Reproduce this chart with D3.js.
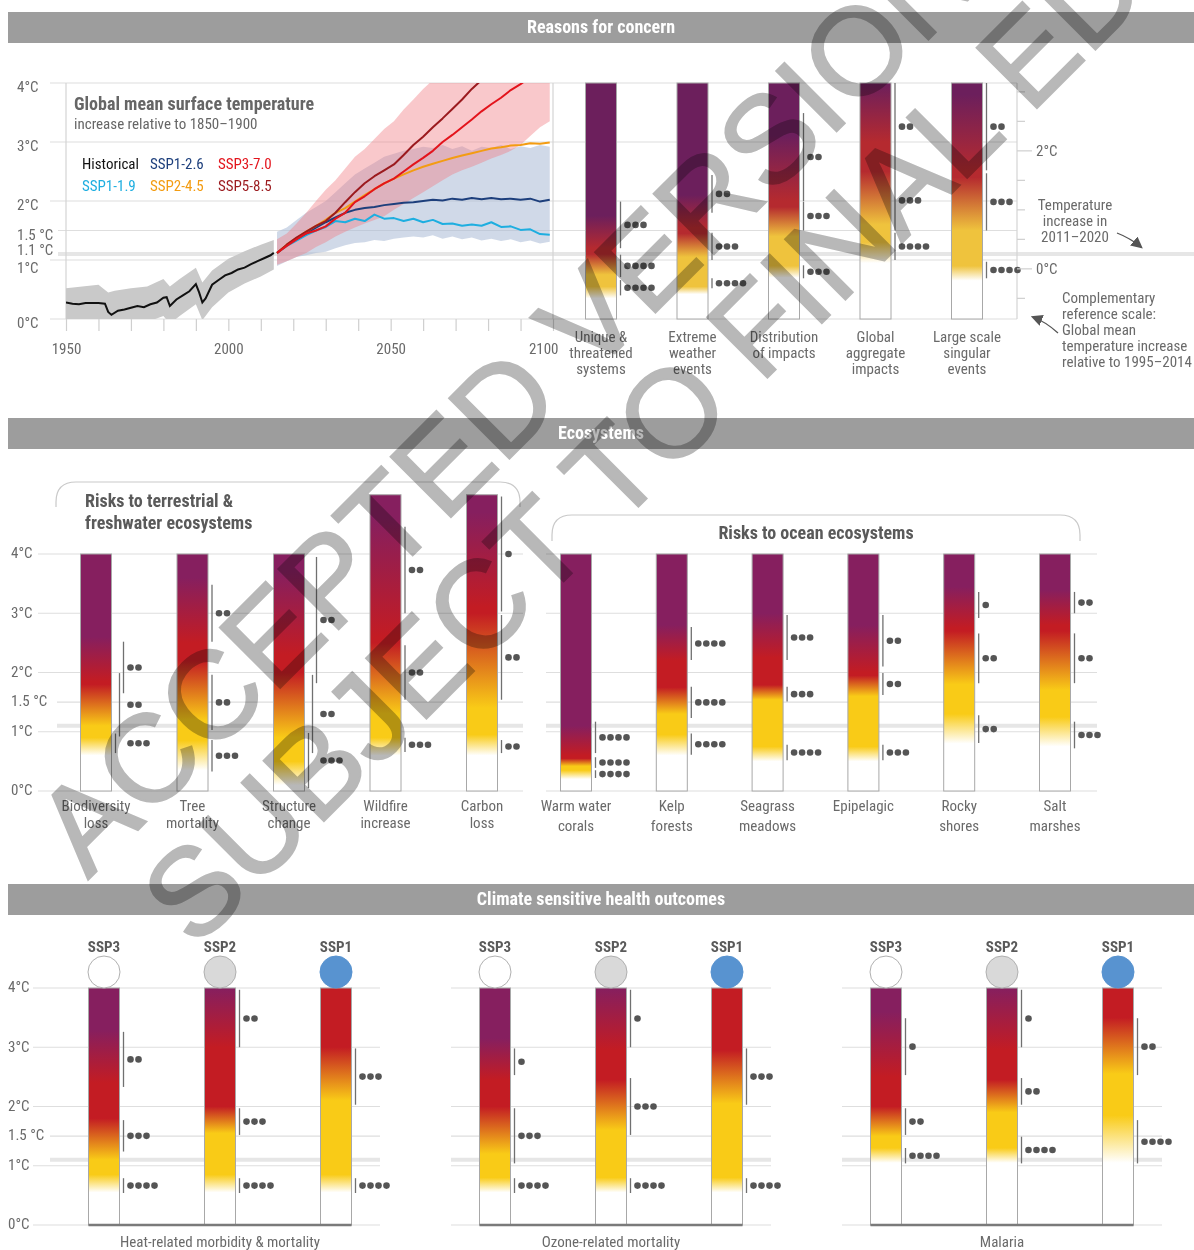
<!DOCTYPE html>
<html>
<head>
<meta charset="utf-8">
<title>Burning embers</title>
<script src="https://d3js.org/d3.v7.min.js"></script>
<style>
  body { margin: 0; background: #fff; }
  svg text { font-family: "Liberation Sans Narrow", "Arial Narrow", "Roboto Condensed", sans-serif; }
</style>
</head>
<body>
<div id="chart"></div>
<script>
// ---------- data ----------
const headerTitles = ["Reasons for concern", "Ecosystems", "Climate sensitive health outcomes"];

const topTicks = [0, 1, 1.1, 1.5, 2, 3, 4];
const topTickLabels = ["0°C", "1°C", "1.1 °C", "1.5 °C", "2°C", "3°C", "4°C"];
const tempTicks = [0, 1, 1.5, 2, 3, 4];
const tempTickLabels = ["0°C", "1°C", "1.5 °C", "2°C", "3°C", "4°C"];
const recentWarming = 1.1;

const yearLabels = [1950, 2000, 2050, 2100];

const histYears = [1950, 1952, 1954, 1956, 1958, 1960, 1962, 1963, 1964, 1966, 1968, 1970, 1972, 1974, 1976, 1978, 1980, 1981, 1982, 1984, 1986, 1988, 1990, 1991, 1992, 1993, 1995, 1997, 1999, 2001, 2003, 2005, 2007, 2009, 2011, 2013, 2014];
const histValues = [0.28, 0.26, 0.25, 0.27, 0.27, 0.27, 0.26, 0.12, 0.07, 0.14, 0.16, 0.19, 0.22, 0.20, 0.25, 0.28, 0.36, 0.37, 0.22, 0.33, 0.40, 0.47, 0.59, 0.45, 0.28, 0.35, 0.58, 0.66, 0.74, 0.78, 0.84, 0.87, 0.93, 0.98, 1.03, 1.08, 1.12];
const histBandYears = [1950, 1955, 1960, 1963, 1965, 1970, 1975, 1980, 1982, 1985, 1990, 1992, 1995, 2000, 2005, 2010, 2014];
const histBandLow = [-0.05, -0.05, -0.05, -0.2, -0.15, -0.1, -0.05, 0.05, -0.08, 0.05, 0.25, -0.02, 0.2, 0.45, 0.6, 0.72, 0.84];
const histBandHigh = [0.52, 0.55, 0.58, 0.45, 0.48, 0.52, 0.55, 0.68, 0.55, 0.68, 0.87, 0.62, 0.82, 1.02, 1.15, 1.26, 1.34];

const projYears = [2015, 2018, 2021, 2024, 2027, 2030, 2033, 2036, 2039, 2042, 2045, 2048, 2051, 2054, 2057, 2060, 2063, 2066, 2069, 2072, 2075, 2078, 2081, 2084, 2087, 2090, 2093, 2096, 2099];
const ssp119 = [1.12, 1.24, 1.33, 1.42, 1.50, 1.56, 1.66, 1.64, 1.70, 1.66, 1.77, 1.70, 1.71, 1.66, 1.70, 1.64, 1.68, 1.61, 1.62, 1.58, 1.60, 1.58, 1.64, 1.56, 1.57, 1.51, 1.52, 1.44, 1.43];
const ssp126 = [1.12, 1.25, 1.36, 1.45, 1.55, 1.64, 1.72, 1.80, 1.85, 1.88, 1.90, 1.93, 1.95, 1.97, 1.98, 2.00, 2.02, 2.01, 2.04, 2.02, 2.05, 2.03, 2.05, 2.03, 2.04, 2.02, 2.04, 1.99, 2.02];
const ssp245 = [1.12, 1.26, 1.37, 1.48, 1.58, 1.68, 1.80, 1.88, 1.99, 2.10, 2.20, 2.30, 2.38, 2.45, 2.52, 2.58, 2.63, 2.68, 2.73, 2.77, 2.81, 2.85, 2.89, 2.91, 2.94, 2.95, 2.98, 2.97, 2.99];
const ssp370 = [1.12, 1.24, 1.35, 1.45, 1.50, 1.57, 1.70, 1.80, 1.98, 2.08, 2.20, 2.30, 2.38, 2.50, 2.62, 2.73, 2.85, 3.00, 3.12, 3.25, 3.38, 3.52, 3.64, 3.75, 3.88, 3.98, 4.10, 4.20, 4.30];
const ssp585 = [1.12, 1.26, 1.38, 1.48, 1.58, 1.66, 1.80, 1.98, 2.15, 2.30, 2.42, 2.52, 2.62, 2.78, 2.95, 3.09, 3.25, 3.40, 3.56, 3.72, 3.90, 4.05, 4.20, 4.35, 4.50, 4.60, 4.70, 4.80, 4.90];
const lowBandLow = [0.90, 0.98, 1.05, 1.08, 1.12, 1.14, 1.20, 1.25, 1.29, 1.30, 1.34, 1.32, 1.36, 1.38, 1.40, 1.38, 1.42, 1.36, 1.40, 1.35, 1.38, 1.33, 1.36, 1.32, 1.35, 1.30, 1.33, 1.28, 1.31];
const lowBandHigh = [1.48, 1.55, 1.68, 1.80, 1.90, 2.00, 2.15, 2.30, 2.45, 2.55, 2.65, 2.75, 2.80, 2.85, 2.88, 2.92, 2.90, 2.95, 2.88, 2.93, 2.85, 2.92, 2.90, 2.95, 2.88, 2.93, 2.90, 2.95, 2.92];
const highBandLow = [0.92, 0.98, 1.05, 1.12, 1.22, 1.30, 1.40, 1.48, 1.55, 1.62, 1.68, 1.74, 1.85, 1.95, 2.05, 2.15, 2.25, 2.35, 2.45, 2.52, 2.58, 2.65, 2.72, 2.78, 2.85, 2.95, 3.10, 3.25, 3.35];
const highBandHigh = [1.35, 1.45, 1.62, 1.80, 2.00, 2.19, 2.35, 2.55, 2.75, 2.88, 3.05, 3.22, 3.35, 3.55, 3.72, 3.90, 4.05, 4.20, 4.35, 4.50, 4.60, 4.70, 4.80, 4.90, 5.00, 5.00, 5.00, 5.00, 5.00];

const legendNames = ["Historical", "SSP1-2.6", "SSP3-7.0", "SSP1-1.9", "SSP2-4.5", "SSP5-8.5"];

// complementary scale (relative to 1995-2014)
const compTicks = [-0.5, 0, 0.5, 1, 1.5, 2, 2.5, 3];
const compLabelTicks = [0, 2];
const compLabels = ["0°C", "2°C"];
const compBaseline = 0.85;

// ember transitions: [white->yellow from, to, yellow->red from, to, red->purple from, to]
// confidence: [low, high, number of dots]
const rfcNames = [["Unique &", "threatened", "systems"], ["Extreme", "weather", "events"], ["Distribution", "of impacts"], ["Global", "aggregate", "impacts"], ["Large scale", "singular", "events"]];
const rfcTop = [4, 4, 4, 4, 4];
const rfcTransitions = [
  [0.35, 0.55, 0.75, 1.1, 1.2, 1.75],
  [0.42, 0.55, 1.05, 1.45, 1.55, 2.1],
  [0.7, 0.9, 1.4, 1.9, 2.0, 3.1],
  [0.95, 1.3, 1.6, 2.5, 3.0, 5.2],
  [0.65, 0.9, 1.5, 2.4, 2.5, 3.8]
];
const rfcConfidence = [
  [[1.2, 1.99, 3], [0.71, 1.09, 4], [0.4, 0.66, 4]],
  [[1.8, 2.44, 2], [1.0, 1.46, 3], [0.52, 0.69, 4]],
  [[2.0, 3.49, 2], [1.5, 1.99, 3], [0.69, 0.91, 3]],
  [[2.52, 4.0, 2], [1.5, 2.52, 3], [1.0, 1.46, 4]],
  [[2.52, 4.0, 2], [1.5, 2.47, 3], [0.69, 0.97, 4]]
];

const terrNames = [["Biodiversity", "loss"], ["Tree", "mortality"], ["Structure", "change"], ["Wildfire", "increase"], ["Carbon", "loss"]];
const terrTop = [4, 4, 4, 5, 5];
const terrTransitions = [
  [0.6, 0.9, 1.1, 1.8, 1.85, 2.6],
  [0.35, 0.85, 1.2, 2.2, 2.5, 3.6],
  [0.1, 0.5, 0.9, 2.0, 2.3, 3.7],
  [0.6, 0.9, 1.3, 2.5, 2.6, 4.6],
  [0.6, 0.95, 1.4, 3.0, 3.1, 4.7]
];
const terrConfidence = [
  [[1.65, 2.52, 2], [0.92, 1.99, 2], [0.64, 0.97, 3]],
  [[2.52, 3.48, 2], [1.03, 1.96, 2], [0.33, 0.86, 3]],
  [[1.82, 3.95, 2], [0.64, 1.96, 2], [0.05, 0.98, 3]],
  [[3.0, 4.46, 2], [1.54, 2.46, 2], [0.66, 0.9, 3]],
  [[3.03, 4.97, 1], [1.54, 2.97, 2], [0.64, 0.86, 2]]
];

const oceanNames = [["Warm water", "corals"], ["Kelp", "forests"], ["Seagrass", "meadows"], ["Epipelagic"], ["Rocky", "shores"], ["Salt", "marshes"]];
const oceanTop = [4, 4, 4, 4, 4, 4];
const oceanTransitions = [
  [0.2, 0.35, 0.42, 0.55, 0.6, 1.1],
  [0.6, 0.95, 1.3, 1.75, 2.2, 2.8],
  [0.5, 0.75, 1.54, 1.79, 2.25, 3.0],
  [0.5, 0.75, 1.6, 1.95, 2.0, 2.8],
  [0.8, 1.3, 1.8, 2.7, 2.75, 3.45],
  [0.75, 1.25, 1.7, 2.7, 2.8, 3.4]
];
const oceanConfidence = [
  [[0.64, 1.17, 4], [0.39, 0.57, 4], [0.22, 0.35, 4]],
  [[2.21, 2.77, 4], [1.23, 1.76, 4], [0.61, 0.97, 4]],
  [[2.21, 2.97, 3], [1.51, 1.76, 3], [0.52, 0.78, 4]],
  [[2.1, 2.97, 2], [1.62, 1.99, 2], [0.52, 0.78, 3]],
  [[2.92, 3.36, 1], [1.82, 2.66, 2], [0.81, 1.28, 2]],
  [[3.0, 3.36, 2], [1.82, 2.66, 2], [0.72, 1.17, 3]]
];

const healthOutcomes = ["Heat-related morbidity & mortality", "Ozone-related mortality", "Malaria"];
const sspNames = ["SSP3", "SSP2", "SSP1"];
const healthTransitions = [
  [[0.55, 0.85, 1.1, 1.8, 2.4, 3.3], [0.55, 0.85, 1.55, 2.0, 3.0, 4.0], [0.55, 0.85, 2.1, 3.0, null, null]],
  [[0.55, 0.8, 1.2, 2.0, 2.45, 3.15], [0.55, 0.8, 1.6, 2.45, 2.95, 4.0], [0.55, 0.8, 2.05, 2.95, null, null]],
  [[1.05, 1.3, 1.5, 2.0, 2.5, 3.6], [1.05, 1.3, 1.9, 2.45, 2.95, 4.0], [1.05, 1.85, 2.55, 3.5, null, null]]
];
const healthConfidence = [
  [[[2.33, 3.26, 2], [1.24, 1.77, 3], [0.54, 0.79, 4]], [[3.0, 3.97, 2], [1.52, 1.97, 3], [0.54, 0.79, 4]], [[2.03, 2.98, 3], [0.54, 0.79, 4]]],
  [[[2.53, 2.98, 1], [1.04, 1.97, 3], [0.54, 0.79, 4]], [[3.0, 3.97, 1], [1.52, 2.48, 3], [0.54, 0.79, 4]], [[2.03, 2.98, 3], [0.54, 0.79, 4]]],
  [[[2.53, 3.49, 1], [1.52, 1.97, 2], [1.04, 1.3, 4]], [[3.0, 3.97, 1], [2.03, 2.48, 2], [1.04, 1.49, 4]], [[2.53, 3.49, 2], [1.04, 1.77, 4]]]
];

// ---------- setup ----------
const W = 1194, H = 1250;
const barW = 31;
const gridColor = "#dedede", labelColor = "#6a6a6a";
const palTop = {yellow: "#efc33d", red: "#b52a2f", purple: "#6c1f5c"};
const palEco = {yellow: "#f9cb17", red: "#c31c23", purple: "#861f5f"};
const scenColor = {"Historical": "#111", "SSP1-1.9": "#1eaee0", "SSP1-2.6": "#1d3f7c", "SSP2-4.5": "#f39c12", "SSP3-7.0": "#e3141c", "SSP5-8.5": "#9b1a1e"};
const sspFill = {"SSP3": "#ffffff", "SSP2": "#d9d9d9", "SSP1": "#5893d0"};

const svg = d3.select("#chart").append("svg").attr("width", W).attr("height", H);
const defs = svg.append("defs");
defs.append("marker").attr("id", "arrow").attr("viewBox", "0 0 10 10")
  .attr("refX", 8).attr("refY", 5).attr("markerWidth", 9).attr("markerHeight", 9).attr("orient", "auto")
  .append("path").attr("d", "M0,0 L10,5 L0,10 z").attr("fill", "#555");

// header bands
const bandY = [12, 418, 884];
headerTitles.forEach((t, i) => {
  svg.append("rect").attr("x", 8).attr("y", bandY[i]).attr("width", W - 8).attr("height", 31).attr("fill", "#9d9d9d");
  svg.append("text").attr("x", 601).attr("y", bandY[i] + 21).attr("text-anchor", "middle")
    .attr("fill", "#fff").attr("font-size", 18).attr("font-weight", "bold").text(t);
});

function gridLines(g, y, ticks, x0, x1, x15) {
  ticks.forEach(v => {
    g.append("line").attr("x1", v === 1.5 && x15 ? x15 : x0).attr("x2", x1)
      .attr("y1", y(v)).attr("y2", y(v)).attr("stroke", gridColor).attr("stroke-width", 1.2);
  });
  g.append("line").attr("x1", x15 || x0).attr("x2", x1).attr("y1", y(recentWarming)).attr("y2", y(recentWarming))
    .attr("stroke", "#e6e6e6").attr("stroke-width", 4);
}

function yLabels(g, y, ticks, labels, x, shift) {
  g.selectAll(null).data(ticks).join("text")
    .attr("x", x).attr("y", (d) => y(d) + (shift[d] !== undefined ? shift[d] : shift.base))
    .attr("dy", "0.35em").attr("font-size", 15).attr("fill", labelColor)
    .text((d, i) => labels[i]);
}

let gradId = 0;
function drawEmber(g, cx, y, topT, tr, pal) {
  const id = "ember" + (gradId++);
  const grad = defs.append("linearGradient").attr("id", id).attr("gradientUnits", "userSpaceOnUse")
    .attr("x1", 0).attr("x2", 0).attr("y1", y(0)).attr("y2", y(topT));
  const stops = [[0, "#ffffff"], [tr[0], "#ffffff"], [tr[1], pal.yellow], [tr[2], pal.yellow], [tr[3], pal.red]];
  if (tr[4] != null) stops.push([tr[4], pal.red], [tr[5], pal.purple]);
  grad.selectAll("stop").data(stops).join("stop")
    .attr("offset", d => Math.min(1, d[0] / topT)).attr("stop-color", d => d[1]);
  g.append("rect").attr("x", cx - barW / 2).attr("y", y(topT)).attr("width", barW).attr("height", y(0) - y(topT))
    .attr("fill", `url(#${id})`).attr("stroke", "#a8a8a8").attr("stroke-width", 1);
}

function drawConfidence(g, cx, y, conf) {
  const right = cx + barW / 2;
  const n = conf.length;
  const overlap = conf.some((c, i) => i > 0 && c[1] > conf[i - 1][0]);
  const xs = conf.map((c, i) => right + (overlap ? 4 + 4 * (n - 1 - i) : 4));
  const dotX0 = d3.max(xs) + 7;
  conf.forEach((c, i) => {
    g.append("line").attr("x1", xs[i]).attr("x2", xs[i]).attr("y1", y(c[1])).attr("y2", y(c[0]))
      .attr("stroke", "#707070").attr("stroke-width", 1.3);
    const cy = y((c[0] + c[1]) / 2);
    g.selectAll(null).data(d3.range(c[2])).join("circle")
      .attr("cx", k => dotX0 + k * 8).attr("cy", cy).attr("r", 3.3).attr("fill", "#555");
  });
}

function nameLabel(g, cx, y0, lines, step) {
  g.append("text").attr("text-anchor", "middle").attr("font-size", 15).attr("fill", labelColor)
    .selectAll("tspan").data(lines).join("tspan")
    .attr("x", cx).attr("y", (d, i) => y0 + i * step).text(d => d);
}

// ---------- reasons for concern ----------
const rfc = svg.append("g");
const yTop = d3.scaleLinear().domain([0, 4]).range([319, 83]);
const xYear = d3.scaleLinear().domain([1950, 2100]).range([66, 553]);

gridLines(rfc, yTop, tempTicks, 50, 1017, 58);
yLabels(rfc, yTop, topTicks, topTickLabels, 17, {base: 4, 1: 8, 1.1: -4});
rfc.append("line").attr("x1", 58).attr("x2", W).attr("y1", yTop(recentWarming)).attr("y2", yTop(recentWarming))
  .attr("stroke", "#e6e6e6").attr("stroke-width", 4);

[66, 553, 1017].forEach(x => rfc.append("line").attr("x1", x).attr("x2", x).attr("y1", yTop(4)).attr("y2", yTop(0))
  .attr("stroke", "#d4d4d4").attr("stroke-width", 1.2));

const xAxis = d3.axisBottom(xYear).tickValues(d3.range(1950, 2101, 10))
  .tickFormat(d => yearLabels.includes(d) ? d : "").tickSize(12).tickPadding(12);
const xAxisG = rfc.append("g").attr("transform", `translate(0,${yTop(0)})`).call(xAxis);
xAxisG.attr("font-family", null).attr("font-size", null);
xAxisG.select(".domain").remove();
xAxisG.selectAll(".tick line").attr("stroke", "#cfcfcf").attr("stroke-width", 1.2);
xAxisG.selectAll(".tick text").attr("font-size", 15).attr("fill", labelColor);
xAxisG.selectAll(".tick text").filter(d => d === 2100).attr("text-anchor", "end").attr("x", 5);

defs.append("clipPath").attr("id", "plotClip").append("rect")
  .attr("x", 66).attr("y", yTop(4)).attr("width", 487).attr("height", yTop(0) - yTop(4));
const plot = rfc.append("g").attr("clip-path", "url(#plotClip)");
const area = d3.area().x(d => xYear(d[0])).y0(d => yTop(d[1])).y1(d => yTop(d[2]));
const line = d3.line().x(d => xYear(d[0])).y(d => yTop(d[1]));

plot.append("path").datum(d3.zip(histBandYears, histBandLow, histBandHigh)).attr("d", area).attr("fill", "#c9c9c9");
plot.append("path").datum(d3.zip(projYears, lowBandLow, lowBandHigh)).attr("d", area).attr("fill", "#a9b9d6").attr("opacity", 0.55);
plot.append("path").datum(d3.zip(projYears, highBandLow, highBandHigh)).attr("d", area).attr("fill", "#f07c84").attr("opacity", 0.42);
plot.append("path").datum(d3.zip(histYears, histValues)).attr("d", line).attr("fill", "none").attr("stroke", scenColor["Historical"]).attr("stroke-width", 2);
[["SSP1-1.9", ssp119], ["SSP1-2.6", ssp126], ["SSP2-4.5", ssp245], ["SSP5-8.5", ssp585], ["SSP3-7.0", ssp370]].forEach(([k, v]) => {
  plot.append("path").datum(d3.zip(projYears, v)).attr("d", line).attr("fill", "none")
    .attr("stroke", scenColor[k]).attr("stroke-width", 2).attr("stroke-linejoin", "round");
});

rfc.append("text").attr("x", 74).attr("y", 110).attr("font-size", 18).attr("font-weight", "bold").attr("fill", "#666")
  .text("Global mean surface temperature");
rfc.append("text").attr("x", 74).attr("y", 129).attr("font-size", 15).attr("fill", "#666")
  .text("increase relative to 1850–1900");
legendNames.forEach((nm, i) => {
  rfc.append("text").attr("x", 82 + (i % 3) * 68).attr("y", 169 + Math.floor(i / 3) * 22)
    .attr("font-size", 15).attr("fill", scenColor[nm]).text(nm);
});

const xRfc = d3.scalePoint().domain(d3.range(rfcNames.length)).range([601, 967]);
rfcNames.forEach((nm, i) => {
  drawEmber(rfc, xRfc(i), yTop, rfcTop[i], rfcTransitions[i], palTop);
  drawConfidence(rfc, xRfc(i), yTop, rfcConfidence[i]);
  nameLabel(rfc, xRfc(i), 342, nm, 16);
});

// complementary reference scale
const yComp = d3.scaleLinear().domain([0, 1]).range([yTop(compBaseline), yTop(compBaseline + 1)]);
compTicks.forEach(t => {
  const major = compLabelTicks.includes(t);
  rfc.append("line").attr("x1", 1017).attr("x2", major ? 1032 : 1025).attr("y1", yComp(t)).attr("y2", yComp(t))
    .attr("stroke", "#cfcfcf").attr("stroke-width", 1.2);
});
compLabelTicks.forEach((t, i) => {
  rfc.append("text").attr("x", 1036).attr("y", yComp(t)).attr("dy", "0.35em").attr("font-size", 15)
    .attr("fill", labelColor).text(compLabels[i]);
});
nameLabel(rfc, 1075, 210, ["Temperature", "increase in", "2011–2020"], 16);
rfc.append("text").attr("font-size", 15).attr("fill", labelColor)
  .selectAll("tspan").data(["Complementary", "reference scale:", "Global mean", "temperature increase", "relative to 1995–2014"])
  .join("tspan").attr("x", 1062).attr("y", (d, i) => 303 + i * 16).text(d => d);
rfc.append("path").attr("d", "M1117,233 Q1130,238 1141,247").attr("fill", "none").attr("stroke", "#555")
  .attr("stroke-width", 1.3).attr("marker-end", "url(#arrow)");
rfc.append("path").attr("d", "M1058,333 Q1046,322 1033,317").attr("fill", "none").attr("stroke", "#555")
  .attr("stroke-width", 1.3).attr("marker-end", "url(#arrow)");

// ---------- ecosystems ----------
const eco = svg.append("g");
const yEco = d3.scaleLinear().domain([0, 4]).range([791, 554]);
gridLines(eco, yEco, tempTicks, 38, 523, 57);
gridLines(eco, yEco, tempTicks, 546, 1097, null);
yLabels(eco, yEco, tempTicks, tempTickLabels, 11, {base: -1});

function bracket(g, x0, x1, yTopB, yBot, r) {
  g.append("path").attr("fill", "none").attr("stroke", "#c9c9c9").attr("stroke-width", 1.2)
    .attr("d", `M${x0},${yBot} V${yTopB + r} Q${x0},${yTopB} ${x0 + r},${yTopB} H${x1 - r} Q${x1},${yTopB} ${x1},${yTopB + r} V${yBot}`);
}
bracket(eco, 56, 520, 482, 507, 20);
bracket(eco, 552, 1080, 515, 541, 20);
eco.append("text").attr("font-size", 18).attr("font-weight", "bold").attr("fill", "#5a5a5a")
  .selectAll("tspan").data(["Risks to terrestrial &", "freshwater ecosystems"]).join("tspan")
  .attr("x", 85).attr("y", (d, i) => 507 + i * 22).text(d => d);
eco.append("text").attr("x", 816).attr("y", 539).attr("text-anchor", "middle").attr("font-size", 18)
  .attr("font-weight", "bold").attr("fill", "#5a5a5a").text("Risks to ocean ecosystems");

const xTerr = d3.scalePoint().domain(d3.range(terrNames.length)).range([96, 482]);
terrNames.forEach((nm, i) => {
  drawEmber(eco, xTerr(i), yEco, terrTop[i], terrTransitions[i], palEco);
  drawConfidence(eco, xTerr(i), yEco, terrConfidence[i]);
  nameLabel(eco, xTerr(i), 811, nm, 17);
});
const xOcean = d3.scalePoint().domain(d3.range(oceanNames.length)).range([576, 1055]);
oceanNames.forEach((nm, i) => {
  drawEmber(eco, xOcean(i), yEco, oceanTop[i], oceanTransitions[i], palEco);
  drawConfidence(eco, xOcean(i), yEco, oceanConfidence[i]);
  nameLabel(eco, xOcean(i), 811, nm, 20);
});

// ---------- health ----------
const health = svg.append("g");
const yHealth = d3.scaleLinear().domain([0, 4]).range([1225, 988]);
const xGroup = d3.scalePoint().domain(healthOutcomes).range([220, 1002]);
const xSsp = d3.scalePoint().domain(sspNames).range([-116, 116]);
yLabels(health, yHealth, tempTicks, tempTickLabels, 8, {base: -1});
healthOutcomes.forEach((outcome, gi) => {
  const gc = xGroup(outcome);
  gridLines(health, yHealth, tempTicks, gi === 0 ? 33 : gc - 160, gc + 160, gi === 0 ? 50 : null);
  sspNames.forEach((s, si) => {
    const cx = gc + xSsp(s);
    drawEmber(health, cx, yHealth, 4, healthTransitions[gi][si], palEco);
    drawConfidence(health, cx, yHealth, healthConfidence[gi][si]);
    health.append("circle").attr("cx", cx).attr("cy", 972).attr("r", 16).attr("fill", sspFill[s])
      .attr("stroke", s === "SSP1" ? sspFill[s] : "#b0b0b0").attr("stroke-width", 1);
    health.append("text").attr("x", cx).attr("y", 952).attr("text-anchor", "middle").attr("font-size", 15)
      .attr("font-weight", "bold").attr("fill", "#5a5a5a").text(s);
  });
  health.append("line").attr("x1", gc + xSsp("SSP3") - barW / 2).attr("x2", gc + xSsp("SSP1") + barW / 2)
    .attr("y1", yHealth(0)).attr("y2", yHealth(0)).attr("stroke", "#7a7a7a").attr("stroke-width", 2.5);
  health.append("text").attr("x", gc).attr("y", 1247).attr("text-anchor", "middle").attr("font-size", 15)
    .attr("fill", labelColor).text(outcome);
});

// ---------- watermark ----------
const wm = svg.append("g").attr("fill", "#b8b8b8").attr("stroke", "#b8b8b8").attr("stroke-width", 2)
  .attr("font-size", 124).style("mix-blend-mode", "multiply").attr("pointer-events", "none");
wm.append("text").attr("transform", "translate(88,880) rotate(-45)").style("font-family", "'Liberation Sans', Arial, sans-serif").text("ACCEPTED VERSION");
wm.append("text").attr("transform", "translate(195,950) rotate(-45)").style("font-family", "'Liberation Sans', Arial, sans-serif").text("SUBJECT TO FINAL EDITS");
</script>
</body>
</html>
